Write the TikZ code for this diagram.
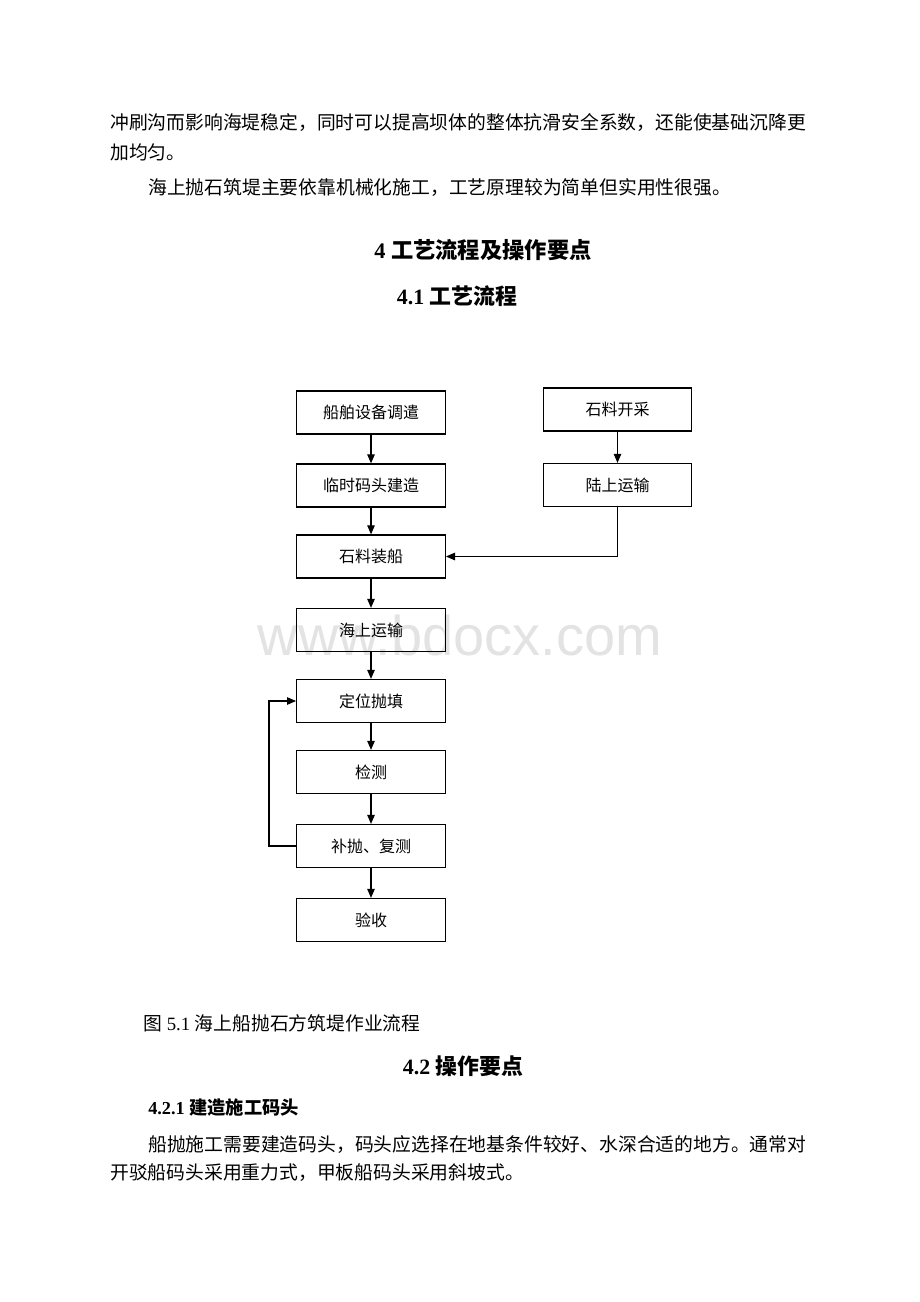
\documentclass[tikz,border=0pt]{standalone}
\usepackage{fontspec}
\setmainfont{Liberation Serif}
\newfontfamily\cjk{Noto Sans CJK SC}
\newfontfamily\wmfont{Liberation Sans}
\usetikzlibrary{arrows.meta}
\tikzset{
  stepbox/.style={draw=black, line width=0.9pt, minimum width=111.5pt, minimum height=32.25pt, inner sep=0pt, font=\cjk\fontsize{12}{14}\selectfont},
  flow/.style={draw=black, line width=0.9pt, -{Triangle[length=6.8pt,width=5.6pt]}},
  body/.style={anchor=west, inner sep=0pt, font=\fontsize{14.1}{16}\selectfont},
  headA/.style={inner sep=0pt, font=\bfseries\fontsize{16.7}{18}\selectfont},
  headB/.style={inner sep=0pt, font=\bfseries\fontsize{16.4}{18}\selectfont},
  headC/.style={anchor=west, inner sep=0pt, font=\bfseries\fontsize{13.7}{16}\selectfont},
}
\begin{document}
\begin{tikzpicture}[x=0.75pt,y=-0.75pt]
\fill[white] (0,0) rectangle (920,1302);
\useasboundingbox (0,0) rectangle (920,1302);

% watermark
\node[anchor=base, inner sep=0pt, text=black!11, font=\wmfont\fontsize{42}{44}\selectfont] (wm) at (460,655) {www.bdocx.com};

% text above
\node[body] (p1) at (110,123) {\cjk 冲刷沟而影响海堤稳定，同时可以提高坝体的整体抗滑安全系数，还能使基础沉降更};
\node[body] (p2) at (110,152) {\cjk 加均匀。};
\node[body] (p3) at (148,188) {\cjk 海上抛石筑堤主要依靠机械化施工，工艺原理较为简单但实用性很强。};

\node[headA] (h1) at (483,250) {4 {\cjk 工艺流程及操作要点}};
\node[headB] (h2) at (457,296) {4.1 {\cjk 工艺流程}};

% flowchart
\node[stepbox] (b1) at (371,412.5) {船舶设备调遣};
\node[stepbox] (b2) at (371,485.5) {临时码头建造};
\node[stepbox] (b3) at (371,556.5) {石料装船};
\node[stepbox] (b4) at (371,630) {海上运输};
\node[stepbox] (b5) at (371,701) {定位抛填};
\node[stepbox] (b6) at (371,772) {检测};
\node[stepbox] (b7) at (371,846) {补抛、复测};
\node[stepbox] (b8) at (371,920) {验收};
\node[stepbox] (r1) at (617.5,409.5) {石料开采};
\node[stepbox] (r2) at (617.5,485) {陆上运输};

\draw[flow] (b1) -- (b2);
\draw[flow] (b2) -- (b3);
\draw[flow] (b3) -- (b4);
\draw[flow] (b4) -- (b5);
\draw[flow] (b5) -- (b6);
\draw[flow] (b6) -- (b7);
\draw[flow] (b7) -- (b8);
\draw[flow] (r1) -- (r2);
\draw[flow] (r2.south) |- (b3.east);
\coordinate (lp) at (269,846);
\draw[flow] (b7.west) -- (lp) |- (b5.west);

% caption and text below
\node[body] (cap) at (143,1023) {{\cjk 图} 5.1 {\cjk 海上船抛石方筑堤作业流程}};
\node[headB] (h3) at (463,1066) {4.2 {\cjk 操作要点}};
\node[headC] (h4) at (148,1108) {4.2.1 {\cjk 建造施工码头}};
\node[body] (q1) at (148,1145) {\cjk 船抛施工需要建造码头，码头应选择在地基条件较好、水深合适的地方。通常对};
\node[body] (q2) at (110,1173) {\cjk 开驳船码头采用重力式，甲板船码头采用斜坡式。};
\end{tikzpicture}
\end{document}
